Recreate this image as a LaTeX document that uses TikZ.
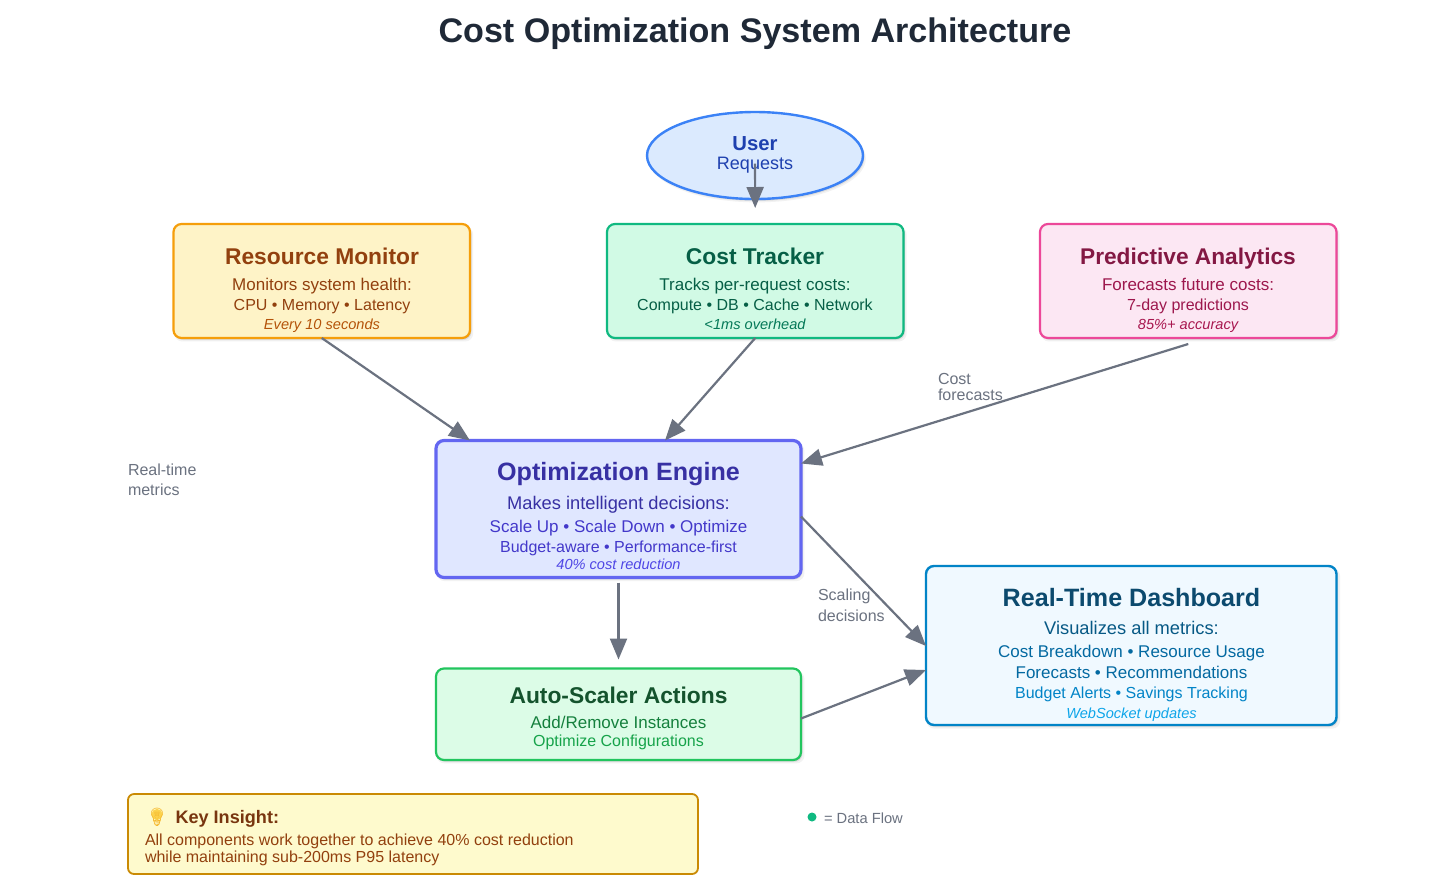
\documentclass[tikz,border=0pt]{standalone}
\usepackage{fontspec}
\setmainfont{Liberation Sans}
\newfontfamily\emojifont{Noto Emoji}
\usetikzlibrary{arrows.meta,shadows,shapes.geometric}
\definecolor{cu}{HTML}{3B82F6}\definecolor{cuf}{HTML}{DBEAFE}\definecolor{cut}{HTML}{1E40AF}
\definecolor{cr}{HTML}{F59E0B}\definecolor{crf}{HTML}{FEF3C7}\definecolor{crt}{HTML}{92400E}\definecolor{cri}{HTML}{B45309}
\definecolor{ct}{HTML}{10B981}\definecolor{ctf}{HTML}{D1FAE5}\definecolor{ctt}{HTML}{065F46}\definecolor{cti}{HTML}{047857}
\definecolor{cp}{HTML}{EC4899}\definecolor{cpf}{HTML}{FCE7F3}\definecolor{cpt}{HTML}{831843}\definecolor{cps}{HTML}{9D174D}\definecolor{cpi}{HTML}{A8174F}
\definecolor{ce}{HTML}{6366F1}\definecolor{cef}{HTML}{E0E7FF}\definecolor{cet}{HTML}{3730A3}\definecolor{ces}{HTML}{4338CA}\definecolor{cei}{HTML}{4F46E5}
\definecolor{ca}{HTML}{22C55E}\definecolor{caf}{HTML}{DCFCE7}\definecolor{cat}{HTML}{14532D}\definecolor{cas}{HTML}{15803D}\definecolor{cai}{HTML}{16A34A}
\definecolor{cd}{HTML}{0284C7}\definecolor{cdf}{HTML}{F0F9FF}\definecolor{cdt}{HTML}{0C4A6E}\definecolor{cds}{HTML}{075985}\definecolor{cdm}{HTML}{0369A1}\definecolor{cdi}{HTML}{0EA5E9}
\definecolor{ci}{HTML}{CA8A04}\definecolor{cif}{HTML}{FEFACD}\definecolor{cit}{HTML}{78350F}\definecolor{cib}{HTML}{F5B82E}\definecolor{cibf}{HTML}{FCD34D}
\definecolor{line}{HTML}{6B7280}\definecolor{titlec}{HTML}{1F2937}
\newcommand\fs[1]{\fontsize{#1pt}{#1pt}\selectfont}
\tikzset{
  softshadow/.style={drop shadow={shadow xshift=2pt,shadow yshift=-3pt,shadow scale=1.008,opacity=.05,fill=black},
                     drop shadow={shadow xshift=1.5pt,shadow yshift=-2pt,opacity=.08,fill=black},
                     drop shadow={shadow xshift=1pt,shadow yshift=-1pt,opacity=.10,fill=black}},
  panel/.style={draw=#1,rounded corners=8pt,inner sep=0pt,outer sep=0pt,anchor=north west,softshadow},
  txt/.style={anchor=base,inner sep=0pt,outer sep=0pt,text=#1},
  lbl/.style={anchor=base west,inner sep=0pt,outer sep=0pt,text=line,font=\fs{16}},
  flow/.style={draw=line,line width=2.2pt,-{Stealth[length=21pt,width=17pt,inset=0pt]}},
}
\begin{document}
\begin{tikzpicture}[x=1pt,y=-1pt]
\useasboundingbox (0,0) rectangle (1447,895);
\fill[white] (0,0) rectangle (1447,895);
\node[txt=titlec,font=\bfseries\fs{34.1}] (title) at (755,42) {Cost Optimization System Architecture};
% boxes
\node[ellipse,draw=cu,fill=cuf,line width=2.4pt,minimum width=216pt,minimum height=87pt,inner sep=0pt,outer sep=0pt,softshadow] (user) at (755,155.5) {};
\node[panel=cr,fill=crf,line width=2.2pt,minimum width=296.5pt,minimum height=114pt] (rm) at (173.5,224) {};
\node[panel=ct,fill=ctf,line width=2.2pt,minimum width=296.5pt,minimum height=114pt] (tracker) at (607,224) {};
\node[panel=cp,fill=cpf,line width=2.2pt,minimum width=296.5pt,minimum height=114pt] (pa) at (1040,224) {};
\node[panel=ce,fill=cef,line width=3.2pt,minimum width=365pt,minimum height=137pt] (engine) at (436,440.5) {};
\node[panel=ca,fill=caf,line width=2.2pt,minimum width=365pt,minimum height=91.5pt] (auto) at (436,668.5) {};
\node[panel=cd,fill=cdf,line width=2.4pt,minimum width=410.5pt,minimum height=159pt] (dash) at (926,566) {};
\node[draw=ci,fill=cif,line width=1.8pt,rounded corners=6pt,inner sep=0pt,outer sep=0pt,anchor=north west,minimum width=570pt,minimum height=80pt] (insight) at (128,794) {};
% texts
\node[txt=cut,font=\bfseries\fs{20.3}] (t1) at (755,150) {User};
\node[txt=cut,font=\fs{18}] (t2) at (755,169) {Requests};

\node[txt=crt,font=\bfseries\fs{22.8}] (t3) at (322,264) {Resource Monitor};
\node[txt=crt,font=\fs{17}] (t4) at (322,290) {Monitors system health:};
\node[txt=crt,font=\fs{16}] (t5) at (322,310) {CPU • Memory • Latency};
\node[txt=cri,font=\itshape\fs{14.6}] (t6) at (322,329) {Every 10 seconds};

\node[txt=ctt,font=\bfseries\fs{22.8}] (t7) at (755,264) {Cost Tracker};
\node[txt=ctt,font=\fs{17}] (t8) at (755,290) {Tracks per-request costs:};
\node[txt=ctt,font=\fs{16}] (t9) at (755,310) {Compute • DB • Cache • Network};
\node[txt=cti,font=\itshape\fs{14.6}] (t10) at (755,329) {<1ms overhead};

\node[txt=cpt,font=\bfseries\fs{22.7}] (t11) at (1188,264) {Predictive Analytics};
\node[txt=cps,font=\fs{17}] (t12) at (1188,290) {Forecasts future costs:};
\node[txt=cps,font=\fs{16}] (t13) at (1188,310) {7-day predictions};
\node[txt=cpi,font=\itshape\fs{14.6}] (t14) at (1188,329) {85\%+ accuracy};

\node[txt=cet,font=\bfseries\fs{25.1}] (t15) at (618.5,480) {Optimization Engine};
\node[txt=cet,font=\fs{18.3}] (t16) at (618.5,509) {Makes intelligent decisions:};
\node[txt=ces,font=\fs{17}] (t17) at (618.5,532) {Scale Up • Scale Down • Optimize};
\node[txt=ces,font=\fs{16}] (t18) at (618.5,552) {Budget-aware • Performance-first};
\node[txt=cei,font=\itshape\fs{14.6}] (t19) at (618.5,569) {40\% cost reduction};

\node[txt=cat,font=\bfseries\fs{22.8}] (t20) at (618.5,703) {Auto-Scaler Actions};
\node[txt=cas,font=\fs{17}] (t21) at (618.5,728) {Add/Remove Instances};
\node[txt=cai,font=\fs{16}] (t22) at (618.5,746) {Optimize Configurations};

\node[txt=cdt,font=\bfseries\fs{25.1}] (t23) at (1131.5,606) {Real-Time Dashboard};
\node[txt=cds,font=\fs{18.3}] (t24) at (1131.5,634) {Visualizes all metrics:};
\node[txt=cdm,font=\fs{17}] (t25) at (1131.5,657) {Cost Breakdown • Resource Usage};
\node[txt=cdm,font=\fs{17}] (t26) at (1131.5,678) {Forecasts • Recommendations};
\node[txt=cd,font=\fs{16}] (t27) at (1131.5,698) {Budget Alerts • Savings Tracking};
\node[txt=cdi,font=\itshape\fs{14.6}] (t28) at (1131.5,718) {WebSocket updates};

\node[lbl] (l1) at (938,384) {Cost};
\node[lbl] (l2) at (938,400) {forecasts};
\node[lbl] (l3) at (128,475) {Real-time};
\node[lbl] (l4) at (128,495) {metrics};
\node[lbl] (l5) at (818,600) {Scaling};
\node[lbl] (l6) at (818,621) {decisions};

\node[circle,fill=ct,inner sep=0pt,minimum size=9pt] (dot) at (812,817) {};
\node[lbl,font=\fs{14.7}] (l7) at (824,823) {= Data Flow};

\fill[cibf] (157,814.5) circle (5.6pt);
\node[txt=cib,font=\emojifont\fs{18}] (bulb) at (157,823) {💡};
\node[lbl,text=cit,font=\bfseries\fs{18.1}] (k1) at (175.5,823) {Key Insight:};
\node[lbl,text=crt,font=\fs{16}] (k2) at (145,845) {All components work together to achieve 40\% cost reduction};
\node[lbl,text=crt,font=\fs{16}] (k3) at (145,862) {while maintaining sub-200ms P95 latency};
% connectors
\draw[flow,shorten <=8pt,shorten >=16pt] (user.center) -- (tracker.north);
\draw[flow] (rm.south) -- ([xshift=-148.5pt]engine.north);
\draw[flow] (tracker.south) -- ([xshift=46.5pt]engine.north);
\draw[flow] ([yshift=-6pt]pa.south) -- ([yshift=-23pt]engine.north east);
\draw[flow,shorten <=5pt,shorten >=9pt] (engine.south) -- (auto.north);
\draw[flow] ([yshift=-76pt]engine.north east) -- ([yshift=-80pt]dash.north west);
\draw[flow] ([yshift=-50pt]auto.north east) -- ([yshift=-104pt]dash.north west);
\end{tikzpicture}
\end{document}
